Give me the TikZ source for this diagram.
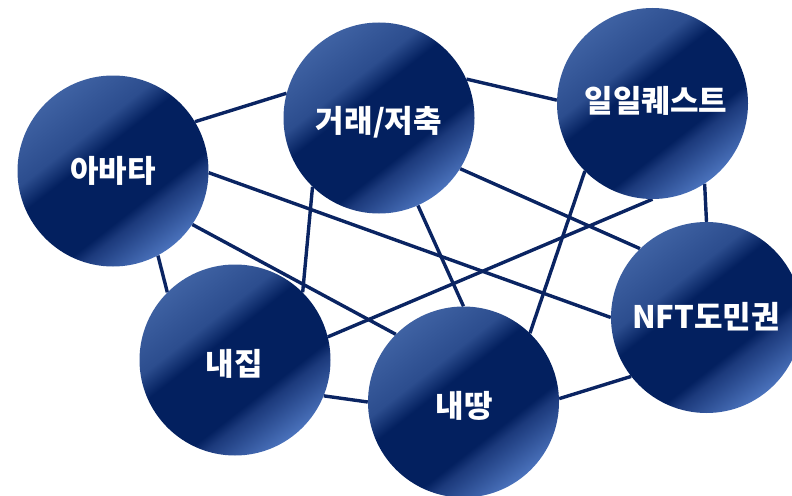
\documentclass[tikz,border=0pt]{standalone}
\usepackage{fontspec}
\newfontfamily\kr{Noto Sans CJK KR}
\definecolor{lineblue}{HTML}{0A2462}
\definecolor{balldark}{HTML}{03205F}
\definecolor{ballmid}{HTML}{2C4D8E}
\definecolor{balltl}{HTML}{3F62A3}
\definecolor{ballbr}{HTML}{4B73BD}
\definecolor{ballbr2}{HTML}{1C3A7C}
\pgfdeclarehorizontalshading{ballshade}{100bp}{%
  color(0bp)=(balltl); color(25bp)=(balltl); color(38bp)=(ballmid);
  color(44bp)=(balldark); color(61bp)=(balldark); color(64bp)=(ballbr2);
  color(75bp)=(ballbr); color(100bp)=(ballbr)}
\tikzset{
  ball/.style={circle, minimum size=191pt, inner sep=0pt, shading=ballshade,
    shading angle=-52},
  anchorball/.style={circle, minimum size=191pt, inner sep=0pt},
  lbl/.style={text=white, font=\kr\bfseries\fontsize{31}{33}\selectfont},
  link/.style={draw=lineblue, line width=3.4pt}
}
\begin{document}
\begin{tikzpicture}[x=1pt,y=-1pt]
\useasboundingbox (0,0) rectangle (792,495);
% centres
\coordinate (cav) at (113,171);
\coordinate (ctr) at (379,118);
\coordinate (cqd) at (652.5,103.5);
\coordinate (cnft) at (706.5,317.5);
\coordinate (chome) at (235,360);
\coordinate (cland) at (463.5,402);
% anchor circles
\node[anchorball] (av) at (cav) {};
\node[anchorball] (tr) at (ctr) {};
\node[anchorball] (qd) at (cqd) {};
\node[anchorball] (nft) at (cnft) {};
\node[anchorball] (home) at (chome) {};
\node[anchorball] (land) at (cland) {};
% connectors
\draw[link] (av.31) -- (tr.165);
\draw[link] (tr.24) -- (qd.178);
\draw[link] (qd.-57) -- (nft.90);
\draw[link] (tr.-32) -- (nft.134);
\draw[link] (tr.226) -- (home.45);
\draw[link] (tr.-66) -- (land.90);
\draw[link] (av.-1) -- (nft.180);
\draw[link] (av.-34) -- (land.135);
\draw[link] (av.-62) -- (home.135);
\draw[link] (qd.-135) -- (land.46);
\draw[link] (qd.-90) -- (home.14);
\draw[link] (home.-22) -- (land.180);
\draw[link] (land.2) -- (nft.-142);
% circles
\node[ball] (avb) at (cav) {};
\node[ball] (trb) at (ctr) {};
\node[ball] (qdb) at (cqd) {};
\node[ball] (nftb) at (cnft) {};
\node[ball] (homeb) at (chome) {};
\node[ball] (landb) at (cland) {};
% labels
\node[lbl] (tav) at (113,171) {아바타};
\node[lbl] (ttr) at (379,122) {거래/저축};
\node[lbl] (tqd) at (656,101) {일일퀘스트};
\node[lbl] (tnft) at (706,317) {NFT도민권};
\node[lbl] (thome) at (234,364) {내집};
\node[lbl] (tland) at (464,406) {내땅};
\end{tikzpicture}
\end{document}
